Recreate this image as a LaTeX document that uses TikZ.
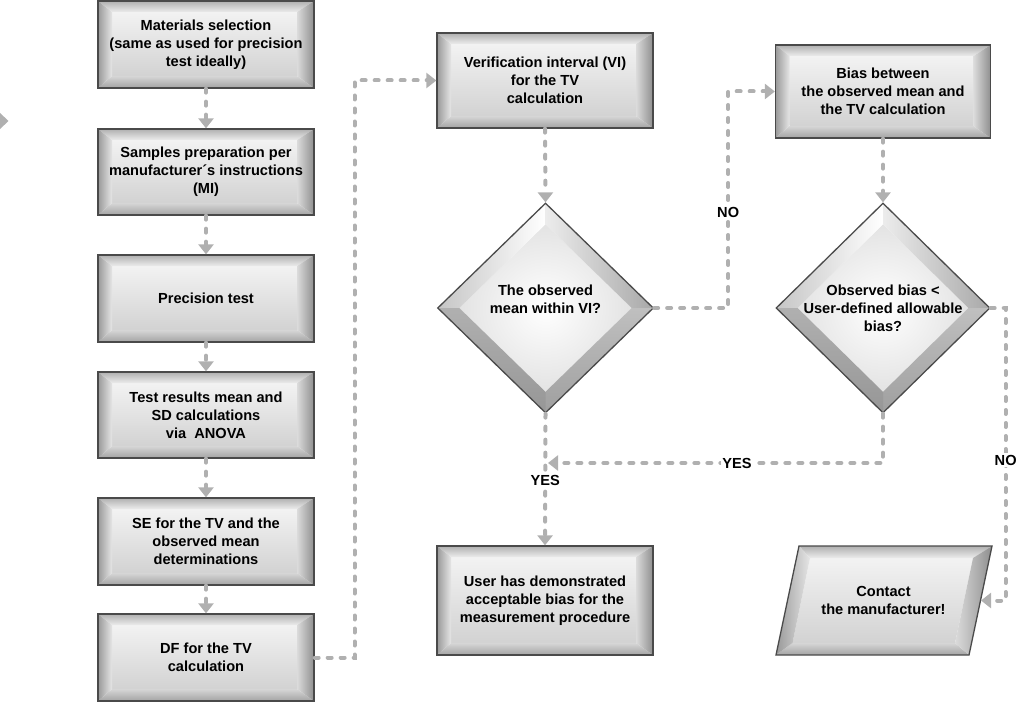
\documentclass[tikz,border=0pt]{standalone}
\usepackage{fontspec}
\setmainfont{Liberation Sans}
\usetikzlibrary{arrows.meta,calc,shapes.geometric}
\definecolor{edge}{HTML}{4A4A4A}
\definecolor{conncol}{HTML}{B0B0B0}
\newcommand{\bfont}{\fontsize{14.6}{18}\selectfont\bfseries}
\tikzset{
  bevelbox/.style={rectangle, draw=edge, line width=1.3pt, inner sep=0pt, align=center, font=\bfont,
    minimum width=216pt,
    path picture={
      \coordinate (@nw) at (path picture bounding box.north west);
      \coordinate (@ne) at (path picture bounding box.north east);
      \coordinate (@sw) at (path picture bounding box.south west);
      \coordinate (@se) at (path picture bounding box.south east);
      \coordinate (@inw) at ($(@nw)+(14pt,-11pt)$);
      \coordinate (@ine) at ($(@ne)+(-17pt,-11pt)$);
      \coordinate (@isw) at ($(@sw)+(14pt,12pt)$);
      \coordinate (@ise) at ($(@se)+(-17pt,12pt)$);
      \shade[top color=gray!10, middle color=white, bottom color=gray!35] (@isw) rectangle (@ine);
      \shade[top color=gray!62, bottom color=gray!15] (@nw) -- (@ne) -- (@ine) -- (@inw) -- cycle;
      \shade[top color=gray!32, bottom color=gray!72] (@sw) -- (@se) -- (@ise) -- (@isw) -- cycle;
      \shade[left color=gray!80, right color=gray!20] (@nw) -- (@inw) -- (@isw) -- (@sw) -- cycle;
      \shade[left color=gray!28, right color=gray!88] (@ne) -- (@ine) -- (@ise) -- (@se) -- cycle;
    }},
  bevdiamond/.style={diamond, draw=edge, line width=1.3pt, inner sep=0pt, align=center, font=\bfont,
    minimum width=216pt, minimum height=210pt,
    path picture={
      \coordinate (@c) at (path picture bounding box.center);
      \coordinate (@n) at (path picture bounding box.north);
      \coordinate (@s) at (path picture bounding box.south);
      \coordinate (@e) at (path picture bounding box.east);
      \coordinate (@w) at (path picture bounding box.west);
      \coordinate (@in) at ($(@c)!0.8!(@n)$);
      \coordinate (@is) at ($(@c)!0.8!(@s)$);
      \coordinate (@ie) at ($(@c)!0.8!(@e)$);
      \coordinate (@iw) at ($(@c)!0.8!(@w)$);
      \shade[inner color=white, outer color=gray!22] (@in) -- (@ie) -- (@is) -- (@iw) -- cycle;
      \shade[left color=gray!45, right color=white] (@w) -- (@n) -- (@in) -- (@iw) -- cycle;
      \shade[left color=gray!15, right color=gray!68] (@n) -- (@e) -- (@ie) -- (@in) -- cycle;
      \shade[top color=gray!50, bottom color=gray!75] (@e) -- (@s) -- (@is) -- (@ie) -- cycle;
      \shade[top color=gray!62, bottom color=gray!82] (@s) -- (@w) -- (@iw) -- (@is) -- cycle;
    }},
  txt/.style={inner sep=0pt, align=center, font=\bfont},
  conn/.style={draw=conncol, line width=4pt, dash pattern=on 4pt off 9pt, line cap=round,
    -{Triangle[length=10pt,width=15pt]}},
  lbl/.style={fill=white, font=\bfont, inner sep=1.5pt, text=black}
}
\begin{document}
\begin{tikzpicture}[x=1pt,y=-1pt]
\useasboundingbox (0,0) rectangle (1024,703);
% left column
\node[bevelbox, minimum height=87pt] (m1) at (206,44.5) {Materials selection\\(same as used for precision\\test ideally)};
\node[bevelbox, minimum height=86pt] (m2) at (206,172) {Samples preparation per\\manufacturer´s instructions\\(MI)};
\node[bevelbox, minimum height=87pt] (m3) at (206,298.5) {Precision test};
\node[bevelbox, minimum height=86pt] (m4) at (206,415) {Test results mean and\\SD calculations\\via~ ANOVA};
\node[bevelbox, minimum height=87pt] (m5) at (206,541.5) {SE for the TV and the\\observed mean\\determinations};
\node[bevelbox, minimum height=87pt] (m6) at (206,657.5) {DF for the TV\\calculation};
% middle column
\node[bevelbox, minimum height=95pt] (vi) at (545,80.5) {Verification interval (VI)\\for the TV\\calculation};
\node[bevdiamond] (d1) at (545.5,308) {The observed\\mean within VI?\\\mbox{}};
\node[bevelbox, minimum height=109pt] (user) at (545,600.5) {User has demonstrated\\acceptable bias for the\\measurement procedure};
% right column
\node[bevelbox, minimum height=93pt, minimum width=215pt] (bias) at (883,91.5) {Bias between\\the observed mean and\\the TV calculation};
\node[bevdiamond, minimum width=214pt] (d2) at (883,308) {Observed bias <\\User-defined allowable\\bias?};
% parallelogram (drawn directly)
\coordinate (tl) at (799,546);
\coordinate (tr) at (992,546);
\coordinate (br) at (969,655);
\coordinate (bl) at (776,655);
\coordinate (itl) at (810,558);
\coordinate (itr) at (973,558);
\coordinate (ibr) at (955,643);
\coordinate (ibl) at (792.5,643);
\shade[top color=gray!10, middle color=white, bottom color=gray!35] (ibl) -- (ibr) -- (itr) -- (itl) -- cycle;
\shade[top color=gray!62, bottom color=gray!15] (tl) -- (tr) -- (itr) -- (itl) -- cycle;
\shade[top color=gray!32, bottom color=gray!72] (bl) -- (br) -- (ibr) -- (ibl) -- cycle;
\shade[left color=gray!80, right color=gray!20] (tl) -- (itl) -- (ibl) -- (bl) -- cycle;
\shade[left color=gray!28, right color=gray!88] (tr) -- (itr) -- (ibr) -- (br) -- cycle;
\draw[edge, line width=1.3pt, line join=miter] (tl) -- (tr) -- (br) -- (bl) -- cycle;
\node[txt] (contact) at (883.5,600.5) {Contact\\the manufacturer!};
\coordinate (ce) at (981,600.5);
\coordinate (yj) at (548,463);
% stray arrowhead at the left margin
\fill[conncol] (0,113) -- (8.5,121) -- (0,129) -- cycle;
% connectors
\draw[conn] (m1.south) -- (m2.north);
\draw[conn] (m2.south) -- (m3.north);
\draw[conn] (m3.south) -- (m4.north);
\draw[conn] (m4.south) -- (m5.north);
\draw[conn] (m5.south) -- (m6.north);
\draw[conn] (m6.east) -- ++(40,0) |- (vi.west);
\draw[conn] (vi.south) -- (d1.north);
\draw[conn] (d1.south) -- node[lbl,pos=0.51] (yes1) {YES} (user.north);
\draw[conn] (d1.east) -- ++(74,0) |- node[lbl,pos=0.22] (no1) {NO} (bias.west);
\draw[conn] (bias.south) -- (d2.north);
\draw[conn] (d2.south) |- node[lbl,pos=0.718] (yes2) {YES} (yj);
\draw[conn] (d2.east) -- ++(15,0) |- node[lbl,pos=0.26] (no2) {NO} (ce);
\end{tikzpicture}
\end{document}
